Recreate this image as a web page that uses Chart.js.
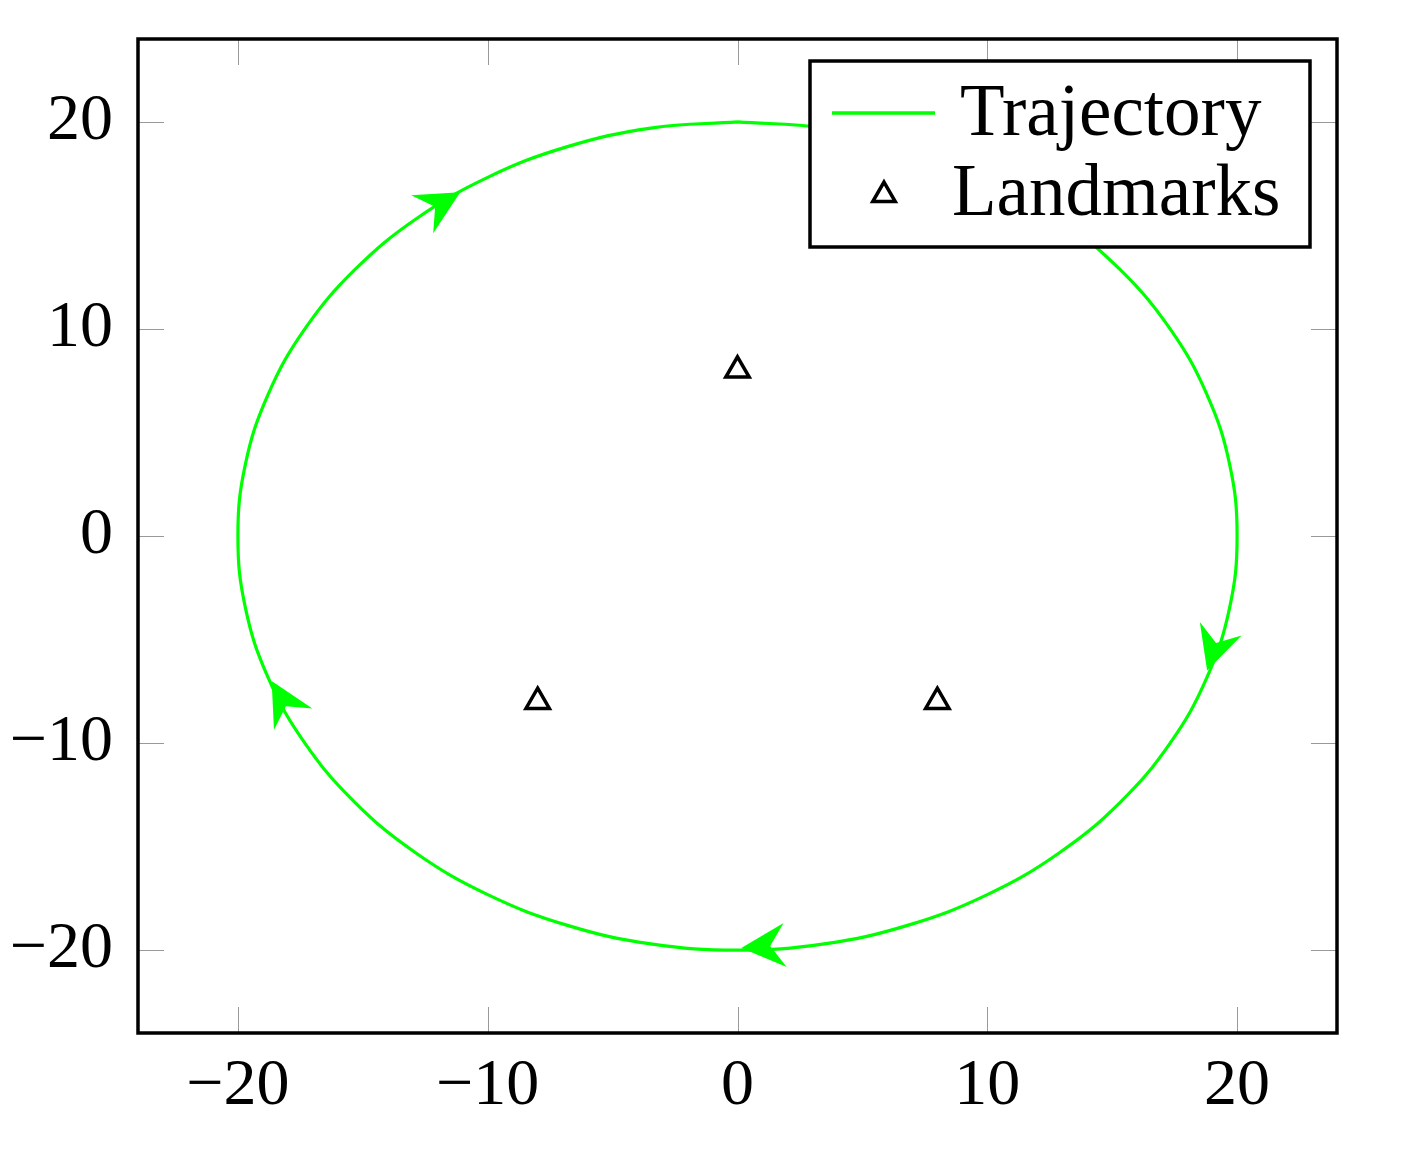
<!DOCTYPE html>
<html>
<head>
<meta charset="utf-8">
<script src="https://cdn.jsdelivr.net/npm/chart.js@4/dist/chart.umd.min.js"></script>
<style>
html,body{margin:0;padding:0;background:#fff;}
#wrap{width:1420px;height:1160px;position:relative;}
</style>
</head>
<body>
<div id="wrap"><canvas id="c" width="1420" height="1160"></canvas></div>
<script>
// ---- data ----
const trajX = [0, 3.47, 6.84, 10, 12.86, 15.32, 17.32, 18.79, 19.70, 20, 19.70, 18.79, 17.32, 15.32, 12.86, 10, 6.84, 3.47, 0, -3.47, -6.84, -10, -12.86, -15.32, -17.32, -18.79, -19.70, -20, -19.70, -18.79, -17.32, -15.32, -12.86, -10, -6.84, -3.47, 0];
const trajY = [20, 19.70, 18.79, 17.32, 15.32, 12.86, 10, 6.84, 3.47, 0, -3.47, -6.84, -10, -12.86, -15.32, -17.32, -18.79, -19.70, -20, -19.70, -18.79, -17.32, -15.32, -12.86, -10, -6.84, -3.47, 0, 3.47, 6.84, 10, 12.86, 15.32, 17.32, 18.79, 19.70, 20];
const landX = [0, -8, 8];
const landY = [8, -8, -8];
const arrowX = [-11.1, 18.8, 0.15, -18.65];
const arrowY = [16.6, -6.5, -19.9, -7.0];
const tickVals = [-20, -10, 0, 10, 20];
const legendLabels = ['Trajectory', 'Landmarks'];

const GREEN = '#00ff00';
const FONT = '"Liberation Serif", "Times New Roman", serif';

const trajData = trajX.map((x, i) => ({x: x, y: trajY[i]}));
const landData = landX.map((x, i) => ({x: x, y: landY[i]}));

function fmt(v) { return String(v).replace('-', '\u2212'); }

function triangle(ctx, x, y, r) {
  ctx.beginPath();
  for (let k = 0; k < 3; k++) {
    const a = k * 2 * Math.PI / 3;
    const px = x + Math.sin(a) * r, py = y - Math.cos(a) * r;
    if (k === 0) ctx.moveTo(px, py); else ctx.lineTo(px, py);
  }
  ctx.closePath();
}

const framePlugin = {
  id: 'frame',
  afterDatasetsDraw(chart) {
    const {ctx, chartArea: a, scales} = chart;
    const xs = scales.x, ys = scales.y;
    ctx.save();
    // arrows
    const px = trajX.map(v => xs.getPixelForValue(v));
    const py = trajY.map(v => ys.getPixelForValue(v));
    ctx.fillStyle = GREEN;
    for (let i = 0; i < arrowX.length; i++) {
      const tx = xs.getPixelForValue(arrowX[i]), ty = ys.getPixelForValue(arrowY[i]);
      let best = 1e9, dx = 1, dy = 0;
      for (let j = 0; j < px.length - 1; j++) {
        const sx = px[j+1]-px[j], sy = py[j+1]-py[j];
        const L2 = sx*sx + sy*sy; if (!L2) continue;
        let t = ((tx-px[j])*sx + (ty-py[j])*sy) / L2; t = Math.max(0, Math.min(1, t));
        const qx = px[j] + t*sx - tx, qy = py[j] + t*sy - ty;
        const d = qx*qx + qy*qy;
        if (d < best) { best = d; const L = Math.sqrt(L2); dx = sx/L; dy = sy/L; }
      }
      const nx = -dy, ny = dx;
      const len = 44, hw = 22, notch = 29;
      ctx.beginPath();
      ctx.moveTo(tx, ty);
      ctx.lineTo(tx - dx*len + nx*hw, ty - dy*len + ny*hw);
      ctx.lineTo(tx - dx*notch, ty - dy*notch);
      ctx.lineTo(tx - dx*len - nx*hw, ty - dy*len - ny*hw);
      ctx.closePath();
      ctx.fill();
    }
    // inner ticks
    ctx.strokeStyle = '#999';
    ctx.lineWidth = 1;
    const tl = 26;
    ctx.beginPath();
    tickVals.forEach(v => {
      const x = Math.round(xs.getPixelForValue(v)) + 0.5;
      ctx.moveTo(x, a.top); ctx.lineTo(x, a.top + tl);
      ctx.moveTo(x, a.bottom); ctx.lineTo(x, a.bottom - tl);
      const y = Math.round(ys.getPixelForValue(v)) + 0.5;
      ctx.moveTo(a.left, y); ctx.lineTo(a.left + tl, y);
      ctx.moveTo(a.right, y); ctx.lineTo(a.right - tl, y);
    });
    ctx.stroke();
    // frame
    ctx.strokeStyle = '#000';
    ctx.lineWidth = 3.5;
    ctx.strokeRect(a.left, a.top, a.right - a.left, a.bottom - a.top);
    // legend
    const bw = 500, bh = 186;
    const bx = a.right - 27 - bw, by = a.top + 22;
    ctx.fillStyle = '#fff';
    ctx.fillRect(bx, by, bw, bh);
    ctx.lineWidth = 3.5;
    ctx.strokeStyle = '#000';
    ctx.strokeRect(bx, by, bw, bh);
    ctx.strokeStyle = GREEN;
    ctx.lineWidth = 3.5;
    ctx.beginPath();
    ctx.moveTo(bx + 22, by + 52); ctx.lineTo(bx + 125, by + 52);
    ctx.stroke();
    ctx.strokeStyle = '#000';
    ctx.lineWidth = 3.5;
    triangle(ctx, bx + 74, by + 134, 13);
    ctx.stroke();
    ctx.fillStyle = '#000';
    ctx.font = '73px ' + FONT;
    ctx.textAlign = 'left';
    ctx.textBaseline = 'alphabetic';
    ctx.fillText(legendLabels[0], bx + 150, by + 74);
    ctx.fillText(legendLabels[1], bx + 142, by + 154);
    ctx.restore();
  }
};

new Chart(document.getElementById('c'), {
  type: 'scatter',
  data: {
    datasets: [
      {label: legendLabels[0], data: trajData, showLine: true, borderColor: GREEN, borderWidth: 3.2, pointRadius: 0, tension: 0.4, fill: false},
      {label: legendLabels[1], data: landData, showLine: false, pointStyle: 'triangle', pointRadius: 13.5, borderColor: '#000', backgroundColor: 'rgba(0,0,0,0)', borderWidth: 3.5, pointHoverRadius: 13.5}
    ]
  },
  options: {
    responsive: false,
    animation: false,
    events: [],
    layout: {padding: {top: 39, right: 83, left: 0, bottom: 0}},
    plugins: {legend: {display: false}, tooltip: {enabled: false}},
    scales: {
      x: {
        type: 'linear', min: -24, max: 24,
        afterBuildTicks: s => { s.ticks = tickVals.map(v => ({value: v})); },
        afterFit: s => { s.height = 127; s.paddingLeft = 0; s.paddingRight = 0; },
        grid: {display: false, drawTicks: false},
        border: {display: false},
        ticks: {padding: 14, color: '#000', font: {family: FONT, size: 66}, callback: v => fmt(v), maxRotation: 0, autoSkip: false}
      },
      y: {
        type: 'linear', min: -24, max: 24,
        afterBuildTicks: s => { s.ticks = tickVals.map(v => ({value: v})); },
        afterFit: s => { s.width = 138; s.paddingTop = 0; s.paddingBottom = 0; },
        grid: {display: false, drawTicks: false},
        border: {display: false},
        ticks: {padding: 25, color: '#000', font: {family: FONT, size: 66}, callback: v => fmt(v), autoSkip: false}
      }
    }
  },
  plugins: [framePlugin]
});
</script>
</body>
</html>
